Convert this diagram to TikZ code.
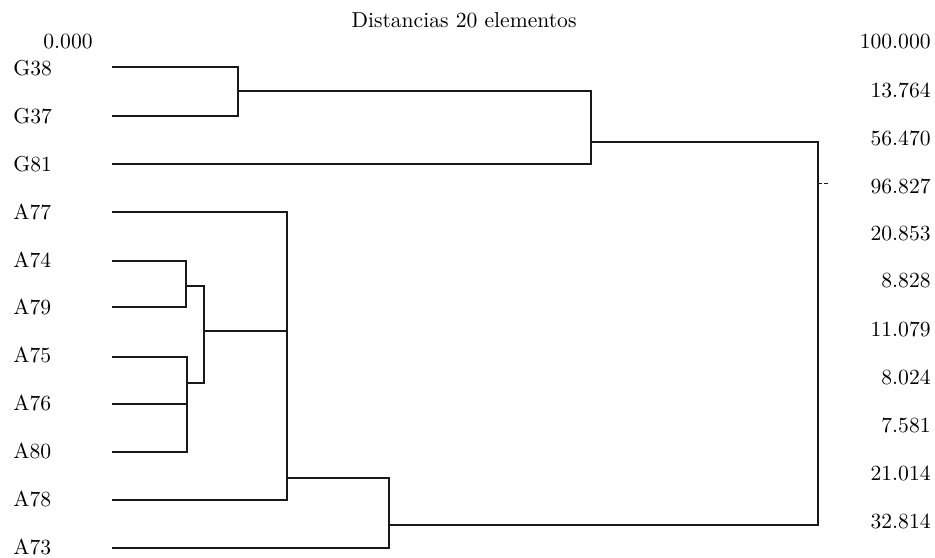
\documentclass[tikz,border=0pt]{standalone}
\begin{document}
\begin{tikzpicture}[x=0.5pt,y=-0.5pt,
  lbl/.style={font=\fontsize{10.8}{12}\selectfont, inner sep=0pt, text=black},
  leaf/.style={lbl, anchor=west},
  val/.style={lbl, anchor=east},
  link/.style={draw=black!90, line width=0.6pt}]
\useasboundingbox (0,0) rectangle (935,557);

% title and scale values
\node[lbl] (title) at (464,20) {Distancias 20 elementos};
\node[val] (zero) at (93,42) {0.000};

% leaf labels
\node[leaf] (G38) at (13,68) {G38};
\node[leaf] (G37) at (13,116) {G37};
\node[leaf] (G81) at (13,164) {G81};
\node[leaf] (A77) at (13,212) {A77};
\node[leaf] (A74) at (13,260) {A74};
\node[leaf] (A79) at (13,307) {A79};
\node[leaf] (A75) at (13,355) {A75};
\node[leaf] (A76) at (13,403) {A76};
\node[leaf] (A80) at (13,451) {A80};
\node[leaf] (A78) at (13,499) {A78};
\node[leaf] (A73) at (13,547) {A73};

% right-hand values
\node[val] (v1) at (931,42) {100.000};
\node[val] (v2) at (931,90) {13.764};
\node[val] (v3) at (931,138) {56.470};
\node[val] (v4) at (931,186) {96.827};
\node[val] (v5) at (931,234) {20.853};
\node[val] (v6) at (931,281) {8.828};
\node[val] (v7) at (931,329) {11.079};
\node[val] (v8) at (931,377) {8.024};
\node[val] (v9) at (931,425) {7.581};
\node[val] (v10) at (931,473) {21.014};
\node[val] (v11) at (931,521) {32.814};

% leaf line starts
\coordinate (g38) at (112,67);
\coordinate (g37) at (112,116);
\coordinate (g81) at (112,164);
\coordinate (a77) at (112,212);
\coordinate (a74) at (112,261);
\coordinate (a79) at (112,307);
\coordinate (a75) at (112,357);
\coordinate (a76) at (112,404);
\coordinate (a80) at (112,452);
\coordinate (a78) at (112,500);
\coordinate (a73) at (112,548);

% merge points
\coordinate (m1) at (238,91);
\coordinate (m2) at (591,142);
\coordinate (n1) at (186,286);
\coordinate (n2) at (187,383);
\coordinate (n3) at (204,331);
\coordinate (n4) at (287,478);
\coordinate (n5) at (389,525);
\coordinate (root) at (818,183);
\coordinate (tick) at (828,183);

% G cluster
\draw[link] (g38) -| (m1);
\draw[link] (g37) -| (m1);
\draw[link] (m1) -| (m2);
\draw[link] (g81) -| (m2);
\draw[link] (m2) -| (root);

% A cluster
\draw[link] (a74) -| (n1);
\draw[link] (a79) -| (n1);
\draw[link] (a75) -| (n2);
\draw[link] (a76) -| (n2);
\draw[link] (a80) -| (n2);
\draw[link] (n1) -| (n3);
\draw[link] (n2) -| (n3);
\draw[link] (a77) -| (n4);
\draw[link] (n3) -| (n4);
\draw[link] (a78) -| (n4);
\draw[link] (n4) -| (n5);
\draw[link] (a73) -| (n5);
\draw[link] (n5) -| (root);
\draw[link, line width=0.4pt, dash pattern=on 2pt off 1pt] (root) -- (tick);
\end{tikzpicture}
\end{document}
